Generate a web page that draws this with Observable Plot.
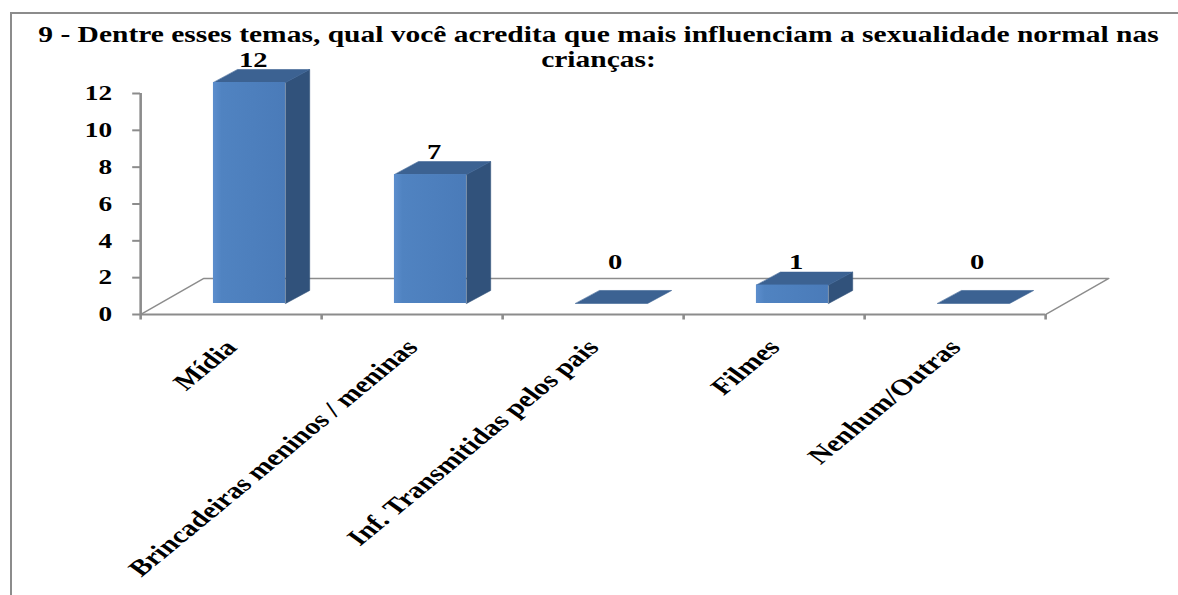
<!DOCTYPE html>
<html>
<head>
<meta charset="utf-8">
<script src="https://cdn.jsdelivr.net/npm/d3@7"></script>
<script src="https://cdn.jsdelivr.net/npm/@observablehq/plot@0.6"></script>
<style>
  html, body { margin: 0; padding: 0; background: #fff; width: 1178px; height: 595px; overflow: hidden; }
  #frame { position: absolute; left: 10px; top: 12px; width: 1200px; height: 600px;
           border-top: 2px solid #8c8c8c; border-left: 2px solid #8c8c8c; }
  #stretch { position: absolute; left: 0; top: 0; height: 595px; transform-origin: 0 0; }
  #chart { position: absolute; left: 0; top: 0; }
  .tline { position: absolute; left: 0; text-align: center;
           font-family: "Liberation Serif", "Times New Roman", serif; font-weight: bold;
           font-size: 22.7px; line-height: 24px; color: #000; white-space: nowrap; }
</style>
</head>
<body>
<div id="frame"></div>
<div id="stretch">
  <div id="chart"></div>
  <div id="title"></div>
</div>
<script>
// ---- data ----
const titleLines = ["9 - Dentre esses temas, qual você acredita que mais influenciam a sexualidade normal nas", "crianças:"];
const categories = ["Mídia", "Brincadeiras meninos / meninas", "Inf. Transmitidas pelos pais", "Filmes", "Nenhum/Outras"];
const values = [12, 7, 0, 1, 0];
const yTicks = [0, 2, 4, 6, 8, 10, 12];

// ---- layout (the source picture is stretched horizontally) ----
const K = 1.3;
const W = 1178 / K;
const stretch = document.getElementById("stretch");
stretch.style.width = W + "px";
stretch.style.transform = `scaleX(${K})`;
const titleEl = document.getElementById("title");
titleLines.forEach((t, j) => {
  const el = document.createElement("div");
  el.className = "tline";
  el.style.width = (1197 / K) + "px";
  el.style.top = (22.5 + j * 25) + "px";
  el.textContent = t;
  titleEl.appendChild(el);
});

// 3-D geometry in data units (category index on x, value on y)
const FLOOR_DX = 0.348, FLOOR_DY = 1.954;
const BAR_X0 = 0.403, BAR_W = 0.398, BAR_BASE = 0.597, BAR_DX = 0.133, BAR_DY = 0.706;

const bars = categories.map((c, i) => ({cat: c, i, v: values[i]}));

const sidePts = [], topPts = [];
bars.forEach(d => {
  const x0 = d.i + BAR_X0, x1 = x0 + BAR_W, b = BAR_BASE, t = BAR_BASE + d.v;
  if (d.v > 0) {
    [[x1, b], [x1 + BAR_DX, b + BAR_DY], [x1 + BAR_DX, t + BAR_DY], [x1, t]]
      .forEach(([x, y]) => sidePts.push({id: d.i, x, y}));
  }
  [[x0, t], [x1, t], [x1 + BAR_DX, t + BAR_DY], [x0 + BAR_DX, t + BAR_DY]]
    .forEach(([x, y]) => topPts.push({id: d.i, x, y}));
});

const n = categories.length;
const floorPts = [[0, 0], [FLOOR_DX, FLOOR_DY], [n + FLOOR_DX, FLOOR_DY], [n, 0]].map(([x, y]) => ({x, y}));
const bounds = d3.range(n + 1);
const centers = d3.range(n).map(i => i + 0.5);

const FONT = "Liberation Serif";
const GRAY = "#8c8c8c";

const plot = Plot.plot({
  width: W,
  height: 595,
  marginLeft: 140 / K,
  marginRight: 133 / K,
  marginTop: 93,
  marginBottom: 281,
  x: {domain: [0, n], axis: null},
  y: {domain: [0, 12], axis: null},
  style: {background: "transparent", overflow: "visible", fontFamily: FONT},
  marks: [
    // floor outline
    Plot.line(floorPts, {x: "x", y: "y", stroke: GRAY, strokeWidth: 1.5}),
    // axes lines
    Plot.ruleY([0], {x1: 0, x2: n, stroke: GRAY, strokeWidth: 2}),
    Plot.ruleX([0], {y1: 0, y2: 12, stroke: GRAY, strokeWidth: 2}),
    Plot.ruleX(bounds, {x: d => d, y1: 0, y2: -0.3, stroke: GRAY, strokeWidth: 2}),
    Plot.axisY({ticks: yTicks, tickSize: 6, tickPadding: 16, stroke: GRAY, strokeWidth: 2, fill: "black",
                fontSize: 21, fontWeight: "bold", fontFamily: FONT, label: null}),
    Plot.axisX({ticks: centers, tickSize: 0, tickPadding: 29, tickRotate: -47,
                tickFormat: d => categories[Math.floor(d)], fill: "black",
                fontSize: 23, fontWeight: "bold", fontFamily: FONT, label: null}),
    // bars: side faces, top faces, front faces
    Plot.line(sidePts, {x: "x", y: "y", z: "id", fill: "#31527b", stroke: "#31527b", strokeWidth: 0.5, curve: "linear-closed"}),
    Plot.line(topPts, {x: "x", y: "y", z: "id", fill: "#3c6292", stroke: "#3c6292", strokeWidth: 0.5, curve: "linear-closed"}),
    Plot.rect(bars.filter(d => d.v > 0), {
      x1: d => d.i + BAR_X0, x2: d => d.i + BAR_X0 + BAR_W,
      y1: BAR_BASE, y2: d => BAR_BASE + d.v, fill: "#4f81bd"
    }),
    // value labels
    Plot.text(bars, {
      x: d => d.i + BAR_X0 + BAR_W / 2 + 0.02,
      y: d => BAR_BASE + Math.max(d.v, 1) + BAR_DY,
      text: d => String(d.v), lineAnchor: "bottom", dy: -3,
      fontSize: 22, fontWeight: "bold", fontFamily: FONT, fill: "black"
    })
  ]
});

document.getElementById("chart").appendChild(plot);

// subtle shading on the front faces
const svg = d3.select(plot);
svg.insert("defs", ":first-child").html(
  '<linearGradient id="frontGrad" x1="0" x2="1" y1="0" y2="0">' +
  '<stop offset="0" stop-color="#5c8ecd"/><stop offset="0.12" stop-color="#5083c1"/>' +
  '<stop offset="1" stop-color="#4a7bb9"/></linearGradient>');
svg.selectAll('g[aria-label="rect"] rect').attr("fill", "url(#frontGrad)");
</script>
</body>
</html>
